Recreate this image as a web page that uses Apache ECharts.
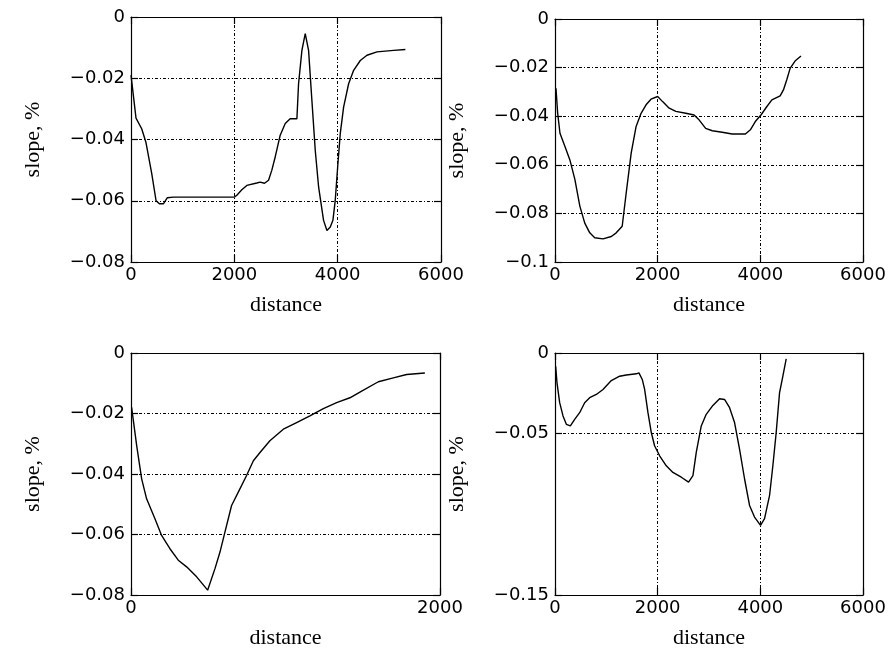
<!DOCTYPE html>
<html>
<head>
<meta charset="utf-8">
<script src="https://cdn.jsdelivr.net/npm/echarts@6/dist/echarts.min.js"></script>
<style>
  html, body { margin: 0; padding: 0; background: #fff; }
  #main { width: 894px; height: 650px; }
</style>
</head>
<body>
<div id="main"></div>
<script>
// 4 panels: distance vs slope, %
var p1_dist = [0, 97, 207, 290, 400, 485, 550, 627, 704, 820, 1400, 2000, 2048, 2145, 2242, 2435, 2500, 2584, 2662, 2726,
	2791, 2888, 2985, 3081, 3211, 3243, 3308, 3372, 3404, 3437, 3501, 3566, 3631, 3727, 3792, 3857, 3908, 3953, 4000,
	4050, 4115, 4212, 4309, 4438, 4567, 4761, 5084, 5310];
var p1_slope = [-0.019, -0.033, -0.0365, -0.041, -0.051, -0.060, -0.061, -0.061, -0.059, -0.0588, -0.0588, -0.0588, -0.0582,
	-0.0564, -0.055, -0.0542, -0.0539, -0.0543, -0.0533, -0.050, -0.0457, -0.0386, -0.0348, -0.0332, -0.0332, -0.0218,
	-0.0109, -0.0054, -0.0049, -0.0109, -0.0272, -0.0435, -0.0555, -0.0664, -0.0697, -0.0686, -0.0664, -0.0599, -0.049,
	-0.0381, -0.0294, -0.0218, -0.0174, -0.0142, -0.0125, -0.0114, -0.0109, -0.0106];

var p2_dist = [19, 52, 97, 194, 290, 387, 484, 580, 677, 774, 935, 1097, 1193, 1309, 1387, 1484, 1580, 1677, 1774, 1870,
	2000, 2096, 2225, 2354, 2548, 2709, 2806, 2935, 3064, 3257, 3451, 3709, 3806, 3902, 4012, 4128, 4225, 4386, 4450,
	4515, 4580, 4676, 4792];
var p2_slope = [-0.0285, -0.0388, -0.047, -0.0525, -0.058, -0.066, -0.077, -0.084, -0.088, -0.090, -0.0905, -0.0895, -0.088,
	-0.0853, -0.0716, -0.0552, -0.0442, -0.0388, -0.0353, -0.033, -0.0319, -0.034, -0.0367, -0.038, -0.0388, -0.0395,
	-0.0415, -0.045, -0.046, -0.0466, -0.0473, -0.0473, -0.0456, -0.0422, -0.0395, -0.036, -0.0333, -0.0316, -0.0292,
	-0.025, -0.0203, -0.0173, -0.0152];

var p3_dist = [4, 37, 69, 101, 155, 198, 252, 306, 360, 425, 496, 544, 576, 608, 651, 705, 748, 792, 835, 899, 986, 1072,
	1158, 1245, 1331, 1417, 1493, 1601, 1698, 1784, 1902];
var p3_slope = [-0.018, -0.0307, -0.0416, -0.0482, -0.0548, -0.0603, -0.0647, -0.0685, -0.0707, -0.074, -0.0784, -0.0712,
	-0.0658, -0.0592, -0.0504, -0.0449, -0.0405, -0.0356, -0.0329, -0.029, -0.0252, -0.023, -0.0208, -0.0184, -0.0164,
	-0.0148, -0.0126, -0.0095, -0.0082, -0.0071, -0.0066];

var p4_dist = [13, 39, 91, 156, 221, 299, 383, 480, 578, 675, 805, 935, 1097, 1259, 1389, 1584, 1635, 1700, 1746, 1811,
	1876, 1940, 2038, 2168, 2297, 2460, 2602, 2687, 2752, 2849, 2946, 3076, 3206, 3303, 3401, 3498, 3595, 3693, 3790,
	3887, 4004, 4082, 4180, 4244, 4309, 4374, 4439, 4504];
var p4_slope = [-0.0082, -0.0185, -0.0308, -0.039, -0.0442, -0.0452, -0.0411, -0.037, -0.0308, -0.0277, -0.0257, -0.0226,
	-0.0171, -0.0144, -0.0136, -0.0129, -0.0123, -0.0164, -0.0226, -0.037, -0.0493, -0.0575, -0.0637, -0.0699, -0.074,
	-0.077, -0.080, -0.076, -0.0616, -0.0452, -0.038, -0.0325, -0.0284, -0.0288, -0.0339, -0.0431, -0.0596, -0.0781,
	-0.0945, -0.1017, -0.1068, -0.1027, -0.0883, -0.0699, -0.0493, -0.0247, -0.0144, -0.0037];

// axis ranges and ticks
var x_max = [6000, 6000, 2000, 6000];
var x_step = [2000, 2000, 2000, 2000];
var y_min = [-0.08, -0.1, -0.08, -0.15];
var y_step = [0.02, 0.02, 0.02, 0.05];
var p4_y_ticks = [-0.15, -0.05, 0];

var grids = [
	{left: 131, top: 17, width: 310, height: 245},
	{left: 555, top: 19, width: 308, height: 243},
	{left: 131, top: 353, width: 309, height: 244},
	{left: 555, top: 353, width: 308, height: 244}
];

var allDist = [p1_dist, p2_dist, p3_dist, p4_dist];
var allSlope = [p1_slope, p2_slope, p3_slope, p4_slope];

var dashDot = [3, 2, 1, 2];
var tickFont = {fontFamily: 'DejaVu Sans', fontSize: 18, color: '#000'};
var nameFont = {fontFamily: 'Liberation Serif', fontSize: 22, color: '#000'};

function fmtY(v) {
	if (v === 0) return '0';
	return '\u2212' + String(Math.abs(+v.toFixed(4)));
}
function fmtX(v) {
	return String(Math.round(v));
}

var xAxes = [];
var yAxes = [];
var series = [];

for (var i = 0; i < 4; i++) {
	var lineStyle = {color: '#000', width: 1.2};
	// bottom x
	xAxes.push({
		gridIndex: i, type: 'value', position: 'bottom',
		min: 0, max: x_max[i], interval: x_step[i],
		name: 'distance', nameLocation: 'middle', nameGap: 32, nameTextStyle: nameFont,
		axisLine: {onZero: false, lineStyle: lineStyle},
		axisTick: {inside: true, length: 7, lineStyle: lineStyle},
		axisLabel: {margin: 4, formatter: fmtX, fontFamily: tickFont.fontFamily, fontSize: tickFont.fontSize, color: '#000'},
		splitLine: {show: true, lineStyle: {color: '#000', width: 1, type: dashDot}}
	});
	// top x (box)
	xAxes.push({
		gridIndex: i, type: 'value', position: 'top',
		min: 0, max: x_max[i], interval: x_step[i],
		axisLine: {onZero: false, lineStyle: lineStyle},
		axisTick: {inside: true, length: 7, lineStyle: lineStyle},
		axisLabel: {show: false},
		splitLine: {show: false}
	});
	var yLeft = {
		gridIndex: i, type: 'value', position: 'left',
		min: y_min[i], max: 0, interval: y_step[i],
		name: 'slope, %', nameLocation: 'middle', nameGap: 87, nameTextStyle: nameFont,
		axisLine: {onZero: false, lineStyle: lineStyle},
		axisTick: {inside: true, length: 7, lineStyle: lineStyle},
		axisLabel: {margin: 6, formatter: fmtY, fontFamily: tickFont.fontFamily, fontSize: tickFont.fontSize, color: '#000'},
		splitLine: {show: true, lineStyle: {color: '#000', width: 1, type: dashDot}}
	};
	var yRight = {
		gridIndex: i, type: 'value', position: 'right',
		min: y_min[i], max: 0, interval: y_step[i],
		axisLine: {onZero: false, lineStyle: lineStyle},
		axisTick: {inside: true, length: 7, lineStyle: lineStyle},
		axisLabel: {show: false},
		splitLine: {show: false}
	};
	if (i === 3) {
		yLeft.axisLabel.customValues = p4_y_ticks;
		yLeft.axisTick.customValues = p4_y_ticks;
		yRight.axisTick.customValues = p4_y_ticks;
	}
	yAxes.push(yLeft);
	yAxes.push(yRight);

	var pts = [];
	for (var j = 0; j < allDist[i].length; j++) {
		pts.push([allDist[i][j], allSlope[i][j]]);
	}
	series.push({
		type: 'line',
		xAxisIndex: i * 2,
		yAxisIndex: i * 2,
		data: pts,
		showSymbol: false,
		symbol: 'none',
		lineStyle: {color: '#000', width: 1.4},
		animation: false
	});
}

var myChart = echarts.init(document.getElementById('main'));
myChart.setOption({
	backgroundColor: '#fff',
	animation: false,
	grid: grids,
	xAxis: xAxes,
	yAxis: yAxes,
	series: series
});
</script>
</body>
</html>
